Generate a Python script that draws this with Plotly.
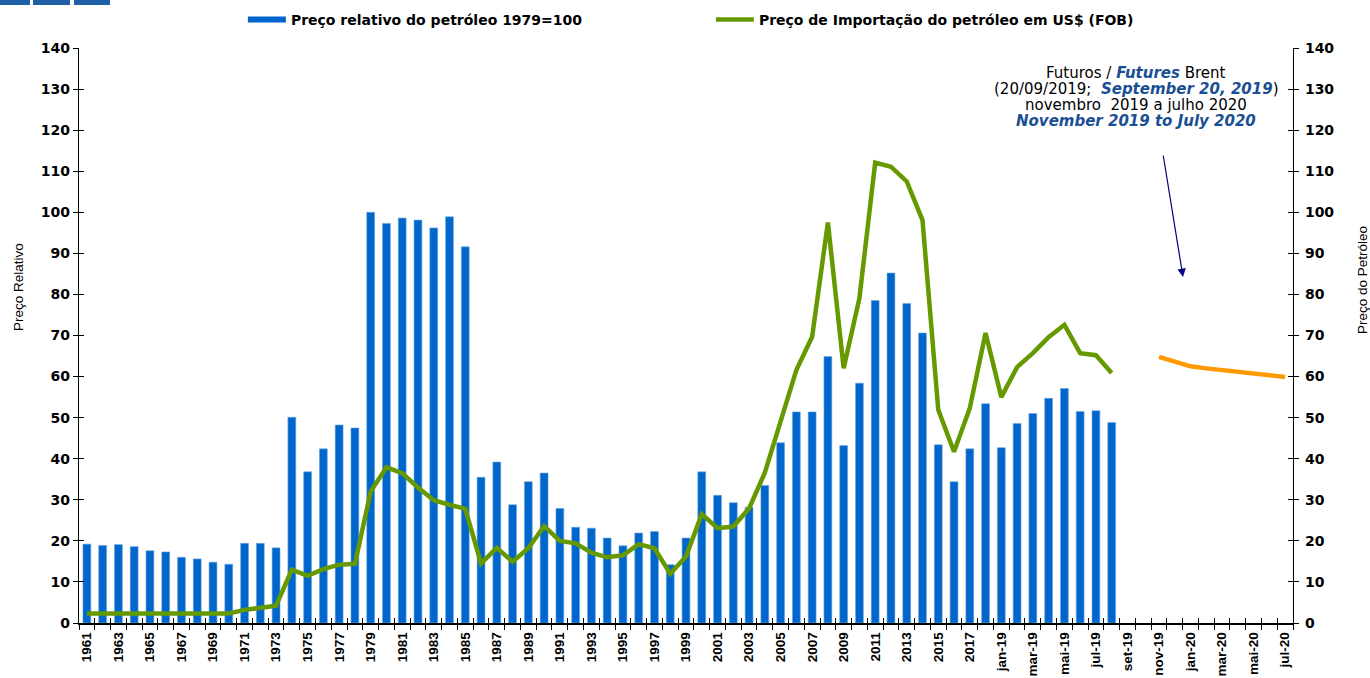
import plotly.graph_objects as go

# Categories: annual 1961-2018, then monthly jan-19 .. jul-20
years = [str(y) for y in range(1961, 2019)]
months = ["jan-19", "fev-19", "mar-19", "abr-19", "mai-19", "jun-19", "jul-19",
          "ago-19", "set-19", "out-19", "nov-19", "dez-19", "jan-20", "fev-20",
          "mar-20", "abr-20", "mai-20", "jun-20", "jul-20"]
categories = years + months

# Relative oil price (1979 = 100)
relative_price = [
    19.2, 18.9, 19.1, 18.6, 17.6, 17.3, 16.0, 15.6, 14.8, 14.3,   # 1961-1970
    19.4, 19.4, 18.3, 50.1, 36.8, 42.4, 48.2, 47.5, 100.0, 97.3,  # 1971-1980
    98.6, 98.1, 96.2, 98.9, 91.6, 35.5, 39.2, 28.8, 34.4, 36.5,   # 1981-1990
    27.9, 23.3, 23.1, 20.7, 18.8, 21.9, 22.3, 14.2, 20.7, 36.8,   # 1991-2000
    31.1, 29.3, 28.2, 33.5, 43.9, 51.4, 51.4, 64.9, 43.2, 58.4,   # 2001-2010
    78.5, 85.2, 77.8, 70.6, 43.4, 34.4, 42.4, 53.4,               # 2011-2018
    42.7, 48.6, 51.0, 54.7, 57.1, 51.5, 51.7, 48.8,               # jan-19 .. ago-19
]

# Oil import price, US$ (FOB)
import_price = [
    2.3, 2.3, 2.3, 2.3, 2.3, 2.3, 2.3, 2.3, 2.3, 2.3,             # 1961-1970
    3.2, 3.7, 4.2, 13.0, 11.5, 13.1, 14.2, 14.4, 32.0, 37.9,      # 1971-1980
    36.5, 33.0, 29.9, 28.8, 27.8, 14.5, 18.3, 14.9, 18.2, 23.6,   # 1981-1990
    20.0, 19.4, 17.1, 16.0, 16.5, 19.2, 18.2, 12.0, 16.2, 26.5,   # 1991-2000
    23.1, 23.5, 27.9, 36.6, 49.4, 61.6, 69.7, 97.5, 62.0, 79.1,   # 2001-2010
    112.1, 111.1, 107.5, 98.1, 51.9, 41.7, 52.3, 70.6,            # 2011-2018
    55.0, 62.3, 65.7, 69.6, 72.6, 65.7, 65.2, 60.9,               # jan-19 .. ago-19
]

# Brent futures (20/09/2019), nov-19 .. jul-20
futures_months = ["nov-19", "dez-19", "jan-20", "fev-20", "mar-20",
                  "abr-20", "mai-20", "jun-20", "jul-20"]
futures_price = [64.8, 63.6, 62.5, 62.0, 61.6, 61.1, 60.8, 60.5, 59.9]

observed = categories[:len(relative_price)]
# every other category carries a label
tick_text = [c if i % 2 == 0 else "" for i, c in enumerate(categories)]

ARIAL = "Liberation Sans, Arial, sans-serif"
WIDE = "DejaVu Sans, Verdana, sans-serif"
BLUE = "#0066CC"
GREEN = "#669900"
ORANGE = "#FF9900"
NAVY = "#1B4F93"

BAR_NAME = "Preço relativo do petróleo 1979=100"
LINE_NAME = "Preço de Importação do petróleo em US$ (FOB)"

fig = go.Figure()

fig.add_trace(go.Bar(
    x=observed, y=relative_price, name=BAR_NAME, showlegend=False,
    legendgroup="rel",
    marker=dict(color=BLUE, line=dict(color="#6FA8E0", width=0.6)),
    width=0.5, xaxis="x", yaxis="y",
))
# legend key for the bars: a flat wide swatch
fig.add_trace(go.Scatter(
    x=[None], y=[None], mode="lines", name=BAR_NAME, legendgroup="rel",
    line=dict(color=BLUE, width=6), xaxis="x", yaxis="y", hoverinfo="skip",
))
fig.add_trace(go.Scatter(
    x=observed, y=import_price, mode="lines", name=LINE_NAME,
    line=dict(color=GREEN, width=4.5), xaxis="x", yaxis="y2",
))
fig.add_trace(go.Scatter(
    x=futures_months, y=futures_price, mode="lines", showlegend=False,
    line=dict(color=ORANGE, width=4.5), xaxis="x", yaxis="y2",
))
# empty carriers for the inner half of the crossing tick marks
fig.add_trace(go.Scatter(x=categories, y=[None] * len(categories), xaxis="x2",
                         yaxis="y3", showlegend=False, hoverinfo="skip"))
fig.add_trace(go.Scatter(x=categories, y=[None] * len(categories), xaxis="x2",
                         yaxis="y4", showlegend=False, hoverinfo="skip"))

cat_range = [-0.5, len(categories) - 0.5]
ytick_font = dict(family=WIDE, size=14, color="black", weight="bold")

fig.update_layout(
    width=1370, height=678,
    margin=dict(l=79, r=77, t=48, b=55, autoexpand=False),
    paper_bgcolor="white", plot_bgcolor="white",
    font=dict(family=ARIAL, color="black"),
    bargap=0.5,
    xaxis=dict(
        type="category", categoryorder="array", categoryarray=categories,
        range=cat_range, tickmode="array", tickvals=categories, ticktext=tick_text,
        tickson="boundaries", ticks="outside", ticklen=5, tickcolor="black",
        tickangle=-90, showline=True, linecolor="black", linewidth=1.5,
        showgrid=False, zeroline=False, automargin=False, ticklabelstandoff=2,
        tickfont=dict(family=ARIAL, size=13.5, color="black", weight="bold"),
    ),
    xaxis2=dict(
        type="category", categoryorder="array", categoryarray=categories,
        range=cat_range, tickmode="array", tickvals=categories,
        tickson="boundaries", ticks="inside", ticklen=5, tickcolor="black",
        showticklabels=False, showline=False, showgrid=False, zeroline=False,
        overlaying="x", anchor="y", automargin=False,
    ),
    yaxis=dict(
        range=[0, 140], dtick=10, ticks="outside", ticklen=5, tickcolor="black",
        showline=True, linecolor="black", linewidth=1.2, showgrid=False,
        zeroline=False, tickfont=ytick_font, automargin=False,
    ),
    yaxis2=dict(
        range=[0, 140], dtick=10, ticks="outside", ticklen=5, tickcolor="black",
        side="right", overlaying="y", showline=True, linecolor="black",
        linewidth=1.2, showgrid=False, zeroline=False, tickfont=ytick_font,
        automargin=False, ticklabelstandoff=3,
    ),
    yaxis3=dict(
        range=[0, 140], dtick=10, ticks="inside", ticklen=5, tickcolor="black",
        side="left", overlaying="y", showticklabels=False, showline=False,
        showgrid=False, zeroline=False, automargin=False,
    ),
    yaxis4=dict(
        range=[0, 140], dtick=10, ticks="inside", ticklen=5, tickcolor="black",
        side="right", overlaying="y", showticklabels=False, showline=False,
        showgrid=False, zeroline=False, automargin=False,
    ),
    legend=dict(
        orientation="h", x=0.135, xanchor="left", y=1.049, yanchor="middle",
        font=dict(family=WIDE, size=14, color="black", weight="bold"),
        entrywidth=415, entrywidthmode="pixels", bgcolor="rgba(0,0,0,0)",
        itemwidth=38, traceorder="normal",
    ),
    showlegend=True,
)

# axis titles
fig.add_annotation(xref="paper", yref="paper", x=-0.0502, y=0.5843,
                   text="Preço Relativo", textangle=-90, showarrow=False,
                   xanchor="center", yanchor="middle",
                   font=dict(family=ARIAL, size=13.5, color="black"))
fig.add_annotation(xref="paper", yref="paper", x=1.0568, y=0.5965,
                   text="Preço do Petróleo", textangle=-90, showarrow=False,
                   xanchor="center", yanchor="middle",
                   font=dict(family=ARIAL, size=13.5, color="black"))

# header strip blocks in the top-left corner
for x0, x1 in [(-0.0651, -0.0404), (-0.0379, -0.0074), (-0.0041, 0.0255)]:
    fig.add_shape(type="rect", xref="paper", yref="paper", x0=x0, x1=x1,
                  y0=1.0748, y1=1.0835, fillcolor="#1F5FA6", line_width=0)

# futures note, one line per annotation for tight spacing
em = "<b><i><span style='color:%s'>%%s</span></i></b>" % NAVY
note_lines = [
    "Futuros / " + em % "Futures" + " Brent",
    "(20/09/2019;  " + em % "September 20, 2019" + ")",
    "novembro  2019 a julho 2020",
    em % "November 2019 to July 2020",
]
for line, yp in zip(note_lines, [0.9565, 0.9287, 0.9008, 0.873]):
    fig.add_annotation(
        xref="paper", yref="paper", x=0.8707, y=yp, xanchor="center",
        yanchor="middle", showarrow=False, text=line,
        font=dict(family=WIDE, size=15, color="black"),
    )

fig.add_annotation(
    xref="paper", yref="paper", x=0.9094, y=0.6017, ax=-20, ay=-123,
    showarrow=True, arrowhead=2, arrowsize=1.4, arrowwidth=1.2,
    arrowcolor="#000080", text="",
)

fig.write_html("out.html")
